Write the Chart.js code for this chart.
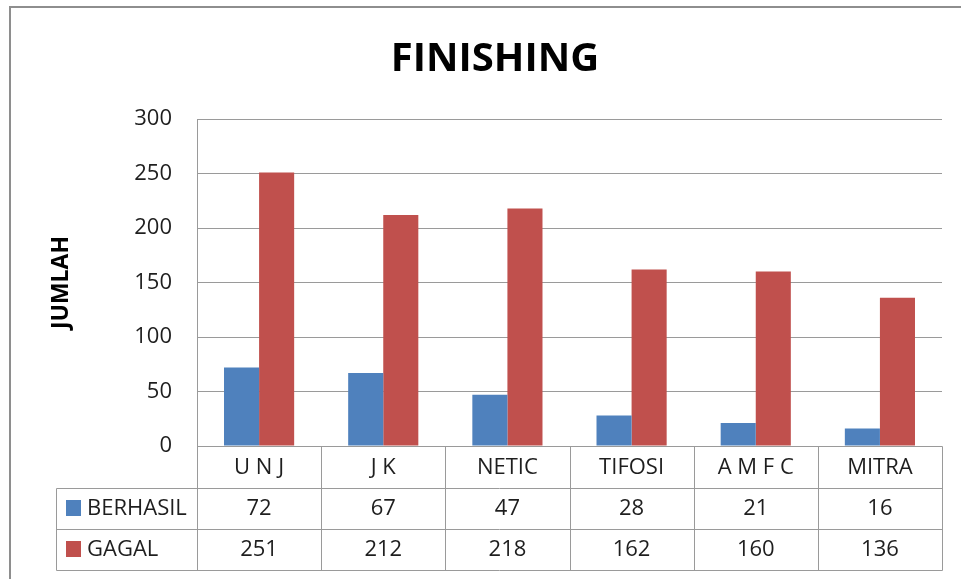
<!DOCTYPE html>
<html>
<head>
<meta charset="utf-8">
<title>FINISHING</title>
<script src="https://cdn.jsdelivr.net/npm/chart.js@4.4.1/dist/chart.umd.min.js"></script>
<style>
  html, body { margin: 0; padding: 0; background: #fff; overflow: hidden; }
  #frame { position: absolute; left: 9px; top: 6px; width: 1100px; height: 700px; border: 2px solid #8e8e8e; }
  #chart { position: absolute; left: 0; top: 0; }
</style>
</head>
<body>
<div id="frame"></div>
<canvas id="chart" width="961" height="579"></canvas>
<script>
const categories = ['U N J', 'J K', 'NETIC', 'TIFOSI', 'A M F C', 'MITRA'];
const berhasil = [72, 67, 47, 28, 21, 16];
const gagal = [251, 212, 218, 162, 160, 136];
const seriesNames = ['BERHASIL', 'GAGAL'];
const yMin = 0, yMax = 300, yStep = 50;

const blue = '#4f81bd';
const red = '#c0504d';
const gridColor = '#9a9a9a';
const textColor = '#1e1e1e';
const font = "'Open Sans', 'Noto Sans', sans-serif";

// data table under the plot, drawn from the x scale positions
const dataTable = {
  id: 'dataTable',
  afterDraw(chart) {
    const ctx = chart.ctx;
    const x = chart.scales.x;
    const step = x.getPixelForValue(1) - x.getPixelForValue(0);
    const left = Math.round(x.left) + 0.5;
    const right = Math.round(x.right) + 0.5;
    const top = Math.round(x.top) + 0.5;
    const rowH = x.height / 3;
    const labelLeft = 56.5;
    const bottom = Math.round(top + rowH * 3) + 0.5;
    const rows = [berhasil, gagal];
    const colors = [blue, red];

    ctx.save();
    ctx.strokeStyle = gridColor;
    ctx.lineWidth = 1;
    ctx.beginPath();
    ctx.moveTo(left, top); ctx.lineTo(right, top);
    for (let r = 1; r <= 3; r++) {
      const y = Math.round(top + rowH * r) + 0.5;
      ctx.moveTo(labelLeft, y); ctx.lineTo(right, y);
    }
    ctx.moveTo(labelLeft, Math.round(top + rowH) + 0.5); ctx.lineTo(labelLeft, bottom);
    for (let i = 0; i <= categories.length; i++) {
      const cx = Math.round(x.getPixelForValue(i) - step / 2) + 0.5;
      ctx.moveTo(cx, top); ctx.lineTo(cx, bottom);
    }
    ctx.stroke();

    ctx.fillStyle = textColor;
    ctx.font = '22px ' + font;
    ctx.textAlign = 'center';
    ctx.textBaseline = 'middle';
    categories.forEach((c, i) => {
      ctx.fillText(c, x.getPixelForValue(i), top + rowH / 2 + 1);
    });
    rows.forEach((vals, r) => {
      const yc = top + rowH * (r + 1.5) + 1;
      vals.forEach((v, i) => ctx.fillText(String(v), x.getPixelForValue(i), yc));
      ctx.fillStyle = colors[r];
      ctx.fillRect(66, Math.round(yc - 9), 15, 16);
      ctx.fillStyle = textColor;
      ctx.textAlign = 'left';
      ctx.fillText(seriesNames[r], 87, yc);
      ctx.textAlign = 'center';
    });
    ctx.restore();
  }
};

new Chart(document.getElementById('chart'), {
  type: 'bar',
  data: {
    labels: categories,
    datasets: [
      { label: seriesNames[0], data: berhasil, backgroundColor: blue },
      { label: seriesNames[1], data: gagal, backgroundColor: red }
    ]
  },
  options: {
    responsive: false,
    animation: false,
    layout: { padding: { left: 48, right: 19, top: 0, bottom: 10 } },
    datasets: { bar: { categoryPercentage: 0.565, barPercentage: 1 } },
    plugins: {
      legend: { display: false },
      tooltip: { enabled: false },
      title: {
        display: true,
        text: 'FINISHING',
        color: '#000',
        font: { family: font, size: 40, weight: 'bold', lineHeight: 1.2 },
        padding: { top: 36, bottom: 35 }
      }
    },
    scales: {
      x: {
        grid: { display: false },
        border: { display: false },
        ticks: { display: false },
        afterFit(scale) { scale.height = 123; }
      },
      y: {
        min: yMin,
        max: yMax,
        ticks: { stepSize: yStep, padding: 25, color: textColor, font: { family: font, size: 22 } },
        grid: { color: gridColor, lineWidth: 1, drawTicks: false },
        border: { display: true, color: gridColor },
        title: {
          display: true,
          text: 'JUMLAH',
          color: '#000',
          font: { family: font, size: 23, weight: 'bold', lineHeight: 1.2 },
          padding: { top: 0, bottom: 0 }
        },
        afterFit(scale) { scale.width = 149; }
      }
    }
  },
  plugins: [dataTable]
});
</script>
</body>
</html>
